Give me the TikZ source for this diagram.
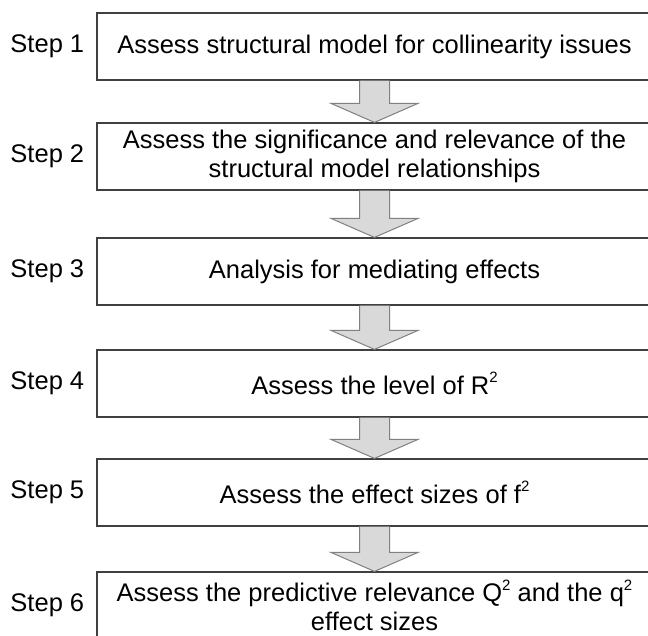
\documentclass[tikz,border=0pt]{standalone}
\usepackage{fontspec}
\setmainfont{Liberation Sans}
\usetikzlibrary{calc,positioning}

\tikzset{
  stepbox/.style={draw=black!75, line width=1.2pt, fill=white,
    minimum width=555pt, minimum height=67pt, inner sep=0pt,
    align=center, font=\fontsize{25.5}{29}\selectfont},
  steplabel/.style={inner sep=0pt, font=\fontsize{25.5}{29}\selectfont},
  flowarrow/.style={draw=black!50, fill=black!15, line width=1pt, line join=miter}
}

% small raised exponent
\newcommand{\sqr}{\raisebox{0.85ex}{\fontsize{15}{15}\selectfont 2}}

% block arrow from the bottom of one box to the top of the next
\newcommand{\flowarrow}[2]{%
  \filldraw[flowarrow]
    ($(#1.south)+(-15,0)$) -- ($(#2.north)+(-15,-19)$)
    -- ($(#2.north)+(-43.5,-19)$) -- (#2.north)
    -- ($(#2.north)+(43.5,-19)$) -- ($(#2.north)+(15,-19)$)
    -- ($(#1.south)+(15,0)$);%
}

\begin{document}
\begin{tikzpicture}[x=1pt, y=-1pt]
  \useasboundingbox (0,0) rectangle (648,635);

  \path (374.5,46.5)  coordinate (c1)
        (374.5,156.5) coordinate (c2)
        (374.5,271.5) coordinate (c3)
        (374.5,383.5) coordinate (c4)
        (374.5,492.5) coordinate (c5)
        (374.5,605.5) coordinate (c6);

  \node[stepbox] (b1) at (c1) {Assess structural model for collinearity issues};
  \node[stepbox] (b2) at (c2) {Assess the significance and relevance of the\\structural model relationships};
  \node[stepbox] (b3) at (c3) {Analysis for mediating effects};
  \node[stepbox] (b4) at (c4) {Assess the level of R\sqr};
  \node[stepbox] (b5) at (c5) {Assess the effect sizes of f\sqr};
  \node[stepbox] (b6) at (c6) {Assess the predictive relevance Q\sqr{} and the q\sqr\\effect sizes};

  \flowarrow{b1}{b2}
  \flowarrow{b2}{b3}
  \flowarrow{b3}{b4}
  \flowarrow{b4}{b5}
  \flowarrow{b5}{b6}

  \node[steplabel, left=12pt of b1] (l1) {Step 1};
  \node[steplabel, left=12pt of b2] (l2) {Step 2};
  \node[steplabel, left=12pt of b3] (l3) {Step 3};
  \node[steplabel, left=12pt of b4] (l4) {Step 4};
  \node[steplabel, left=12pt of b5] (l5) {Step 5};
  \node[steplabel, left=12pt of b6] (l6) {Step 6};
\end{tikzpicture}
\end{document}
